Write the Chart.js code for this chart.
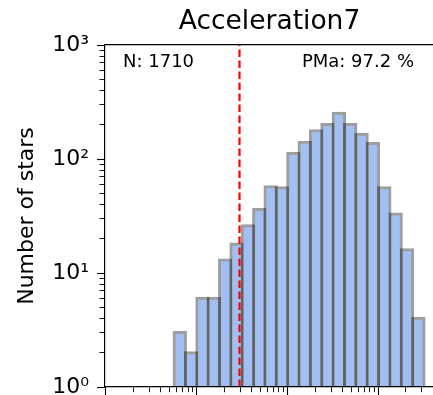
<!DOCTYPE html>
<html>
<head>
<meta charset="utf-8">
<script src="https://cdn.jsdelivr.net/npm/chart.js@4.4.0/dist/chart.umd.min.js"></script>
<style>
  html, body { margin: 0; padding: 0; overflow: hidden; background: #fff; }
  canvas { display: block; }
</style>
</head>
<body>
<canvas id="histChart" width="440" height="430"></canvas>
<script>
// histogram bins (centres, 1/8 dex wide) and counts
const binCenters = [
  0.48697, 0.64938, 0.86596, 1.15478, 1.53993, 2.05353, 2.73842, 3.65174,
  4.86968, 6.49382, 8.65964, 11.5478, 15.3993, 20.5353, 27.3842, 36.5174,
  48.6968, 64.9382, 86.5964, 115.478, 153.993, 205.353, 273.842
];
const starCounts = [
  1, 3, 2, 6, 6, 13, 18, 26,
  36, 57, 56, 112, 140, 177, 201, 252,
  201, 165, 137, 56, 33, 16, 4
];
const cutValue = 2.95;

const xMajorTicks = [0.1, 1, 10, 100];
const yMajorTicks = [1, 10, 100, 1000];
const yTickLabels = ['10⁰', '10¹', '10²', '10³'];

const titleText = 'Acceleration7';
const yTitleText = 'Number of stars';
const nText = 'N: 1710';
const pmaText = 'PMa: 97.2 %';

const X_MIN = 0.0977;
const X_MAX = 407;

Chart.defaults.font.family = '"DejaVu Sans", sans-serif';
Chart.defaults.color = '#000';

// log axis ticks: decades plus 2..9 sub-ticks
function logTicks(majors, min, max) {
  const out = [];
  majors.forEach(m => {
    for (let k = 1; k <= 9; k++) {
      const v = m * k;
      if (v >= min * 0.999 && v <= max * 1.001) out.push({ value: v });
    }
  });
  return out;
}

const isMajor = (list, v) => list.some(m => Math.abs(m - v) / m < 1e-6);

// dashes so that minor ticks come out shorter than major ones
const bottomTickDash = (ctx) => isMajor(xMajorTicks, ctx.tick.value) ? [] : [5, 100];
const leftTickDash = (ctx) => isMajor(yMajorTicks, ctx.tick.value) ? [] : [0, 2.5, 5, 100];

const statsText = {
  id: 'statsText',
  afterDraw(chart) {
    const { ctx, chartArea } = chart;
    ctx.save();
    ctx.font = '18px "DejaVu Sans"';
    ctx.fillStyle = '#000';
    ctx.textBaseline = 'alphabetic';
    ctx.textAlign = 'left';
    ctx.fillText(nText, chartArea.left + 18, chartArea.top + 22);
    ctx.textAlign = 'right';
    ctx.fillText(pmaText, chartArea.right - 20, chartArea.top + 22);
    ctx.restore();
  }
};

new Chart(document.getElementById('histChart'), {
  type: 'bar',
  data: {
    datasets: [
      {
        type: 'line',
        data: [{ x: cutValue, y: 1 }, { x: cutValue, y: 1000 }],
        borderColor: '#ff0000',
        borderWidth: 2.2,
        borderDash: [7.5, 3.5],
        pointRadius: 0,
        order: 0
      },
      {
        type: 'bar',
        data: binCenters.map((c, i) => ({ x: c, y: starCounts[i] })),
        backgroundColor: '#a2bff4',
        borderColor: 'rgba(0,0,0,0.38)',
        borderWidth: 3,
        inflateAmount: 1.5,
        barThickness: 'flex',
        barPercentage: 1,
        categoryPercentage: 1,
        order: 1
      }
    ]
  },
  options: {
    responsive: false,
    animation: false,
    layout: { padding: { left: 0, right: 6, top: 0, bottom: 35 } },
    plugins: {
      legend: { display: false },
      tooltip: { enabled: false },
      title: {
        display: true,
        text: titleText,
        fullSize: false,
        font: { size: 26.5, weight: 'normal' },
        color: '#000',
        padding: { top: 6.6, bottom: 6.6 }
      }
    },
    scales: {
      x: {
        type: 'logarithmic',
        position: 'bottom',
        min: X_MIN,
        max: X_MAX,
        offset: false,
        afterBuildTicks: (scale) => { scale.ticks = logTicks(xMajorTicks, X_MIN, X_MAX); },
        ticks: { display: false, autoSkip: false },
        grid: {
          offset: false,
          drawOnChartArea: false,
          tickLength: 8,
          tickColor: '#000',
          tickWidth: (ctx) => isMajor(xMajorTicks, ctx.tick.value) ? 1.1 : 0.9,
          tickBorderDash: bottomTickDash
        },
        border: { display: true, color: '#000', width: 1.2, z: 1 }
      },
      xTop: {
        type: 'logarithmic',
        position: 'top',
        min: X_MIN,
        max: X_MAX,
        ticks: { display: false },
        grid: { display: false, drawTicks: false },
        border: { display: true, color: '#000', width: 1.2, z: 1 }
      },
      y: {
        type: 'logarithmic',
        position: 'left',
        min: 1,
        max: 1000,
        afterBuildTicks: (scale) => { scale.ticks = logTicks(yMajorTicks, 1, 1000); },
        afterFit: (scale) => { scale.width = 105; },
        ticks: {
          autoSkip: false,
          padding: 8,
          font: { size: 22 },
          color: '#000',
          callback: (value) => {
            const k = yMajorTicks.findIndex(m => Math.abs(m - value) / m < 1e-6);
            return k >= 0 ? yTickLabels[k] : '';
          }
        },
        grid: {
          drawOnChartArea: false,
          tickLength: 8,
          tickColor: '#000',
          tickWidth: (ctx) => isMajor(yMajorTicks, ctx.tick.value) ? 1.1 : 0.9,
          tickBorderDash: leftTickDash
        },
        border: { display: true, color: '#000', width: 1.2, z: 1 },
        title: {
          display: true,
          text: yTitleText,
          font: { size: 22 },
          color: '#000',
          padding: { top: 14, bottom: 0 }
        }
      }
    }
  },
  plugins: [statsText]
});
</script>
</body>
</html>
